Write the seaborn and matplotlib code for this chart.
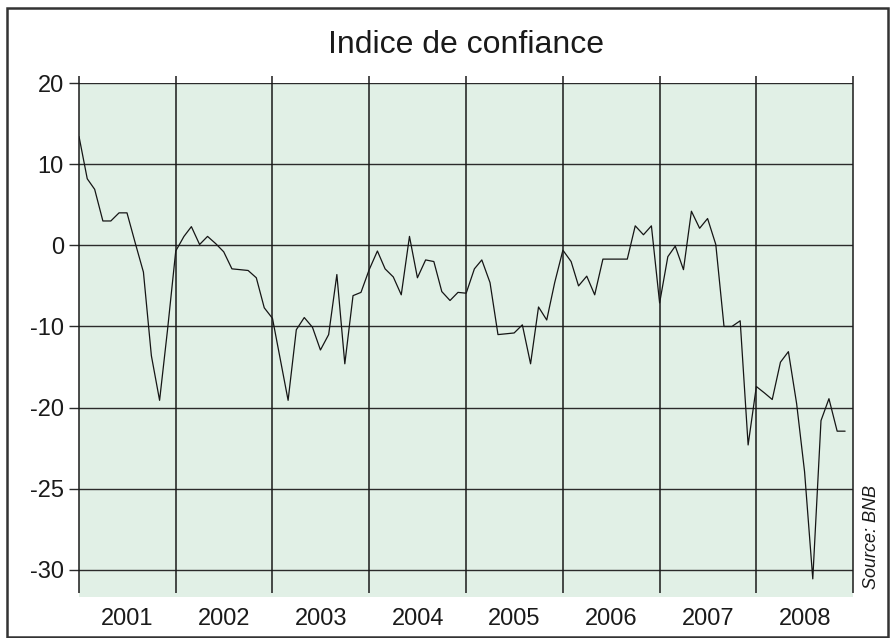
import numpy as np
import pandas as pd
import matplotlib
matplotlib.use("Agg")
import matplotlib.pyplot as plt
import matplotlib.dates as mdates
from matplotlib.patches import Rectangle
import seaborn as sns

# =======================================
# Data (monthly, Jan 2001 - Dec 2008)
# =======================================
START = "2001-01-01"
YEARS = ["2001", "2002", "2003", "2004", "2005", "2006", "2007", "2008"]

values_2001 = [13.4, 8.2, 6.9, 3.0, 3.0, 4.0, 4.0, 0.3, -3.3, -13.6, -19.1, -10.4]
values_2002 = [-0.7, 1.1, 2.3, 0.1, 1.1, 0.2, -0.8, -2.9, -3.0, -3.1, -4.0, -7.7]
values_2003 = [-9.0, -14.3, -19.1, -10.4, -8.9, -10.1, -12.9, -11.0, -3.6, -14.6, -6.2, -5.8]
values_2004 = [-3.0, -0.7, -2.9, -3.9, -6.1, 1.1, -4.0, -1.8, -2.0, -5.7, -6.8, -5.8]
values_2005 = [-5.9, -2.9, -1.8, -4.6, -11.0, -10.9, -10.8, -9.8, -14.6, -7.6, -9.2, -4.6]
values_2006 = [-0.6, -2.0, -5.0, -3.8, -6.1, -1.7, -1.7, -1.7, -1.7, 2.4, 1.3, 2.4]
values_2007 = [-7.1, -1.4, -0.1, -3.0, 4.2, 2.1, 3.3, 0.1, -10.0, -10.0, -9.3, -24.6]
values_2008 = [-17.4, -18.2, -19.0, -14.4, -13.1, -19.5, -27.9, -41.1, -21.6, -18.9, -22.9, -22.9]

# tick positions and the labels printed on the original chart
Y_TICKS = [20, 10, 0, -10, -20, -30, -40]
Y_LABELS = ["20", "10", "0", "-10", "-20", "-25", "-30"]

TITLE = "Indice de confiance"
SOURCE = "Source: BNB"

values = (values_2001 + values_2002 + values_2003 + values_2004
          + values_2005 + values_2006 + values_2007 + values_2008)
dates = pd.date_range(START, periods=len(values), freq="MS")
df = pd.DataFrame({"date": dates, "indice": values})

# =======================================
# Style
# =======================================
sns.set_style("white")
plt.rcParams["font.family"] = ["Liberation Sans", "DejaVu Sans"]

GREEN = "#e1f0e6"
DARK = "#2b2b2b"

fig = plt.figure(figsize=(8.94, 6.38), dpi=100)
ax = fig.add_axes([0.0884, 0.0647, 0.8661, 0.8052])
ax.set_facecolor(GREEN)

sns.lineplot(data=df, x="date", y="indice", ax=ax, color="#151515", linewidth=0.9)

x0 = pd.Timestamp("2001-01-01")
x1 = pd.Timestamp("2009-01-01")
ax.set_xlim(x0, x1)
ax.set_ylim(-43.3, 20)

# horizontal grid + outward tick stubs on the left
ax.set_yticks(Y_TICKS)
ax.set_yticklabels(Y_LABELS)
ax.yaxis.grid(True, color=DARK, linewidth=1.0)
ax.tick_params(axis="y", left=True, length=7, width=1.0, color=DARK,
               direction="out", pad=4, labelsize=17, labelcolor="#1a1a1a")

# vertical year separators, a bit above the plot top
edges = pd.date_range("2001-01-01", "2009-01-01", freq="YS")
ax.vlines(edges, -42.8, 20.86, color="#1a1a1a", linewidth=1.1, clip_on=False, zorder=3)

# year labels in the middle of each year
ax.set_xticks([])
mids = [pd.Timestamp(f"{y}-07-02") for y in YEARS]
ax.set_xticks(mids, minor=True)
ax.set_xticklabels(YEARS, minor=True)
ax.tick_params(axis="x", which="minor", length=0, pad=8, labelsize=17, labelcolor="#1a1a1a")

ax.set_xlabel("")
ax.set_ylabel("")
for s in ax.spines.values():
    s.set_visible(False)

fig.text(0.521, 0.929, TITLE, ha="center", va="center", fontsize=23, color="#1a1a1a")
fig.text(0.975, 0.158, SOURCE, ha="center", va="center", rotation=90,
         fontsize=13, style="italic", color="#1a1a1a")

# outer frame
fig.patches.append(Rectangle((7 / 894, 1 / 638), 881 / 894, 629 / 638,
                             transform=fig.transFigure, fill=False,
                             edgecolor="#333333", linewidth=1.8))

fig.savefig("out.png", dpi=100)
